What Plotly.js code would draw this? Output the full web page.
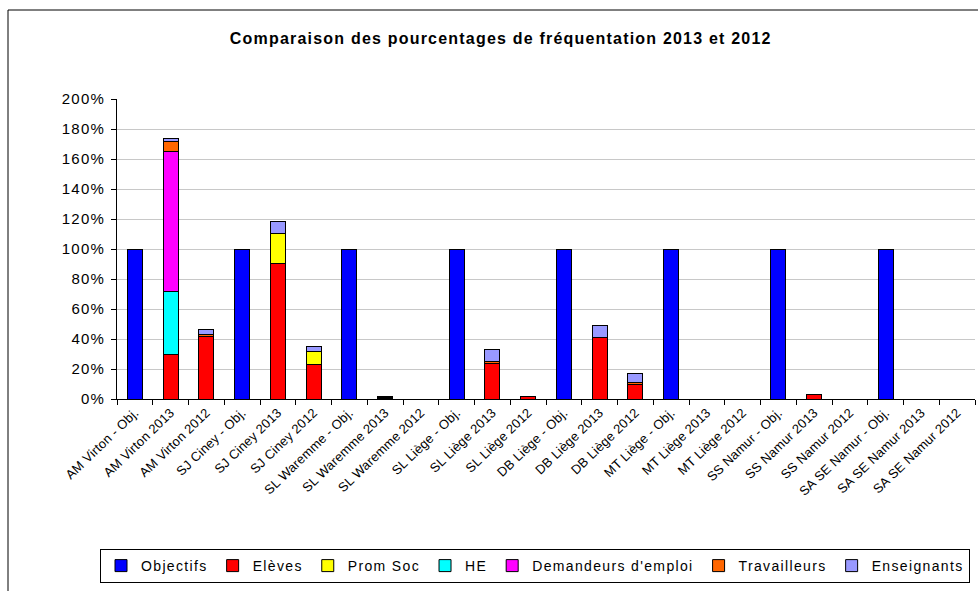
<!DOCTYPE html>
<html>
<head>
<meta charset="utf-8">
<script src="https://cdn.plot.ly/plotly-3.0.1.min.js"></script>
<style>
html,body{margin:0;padding:0;background:#fff;}
#chart{width:978px;height:591px;}
text.legendtext{letter-spacing:1.35px;}
text.gtitle{letter-spacing:1.2px;}
.ytick text{letter-spacing:1.2px;}
.xtick text{letter-spacing:0.2px;}
</style>
</head>
<body>
<div id="chart"></div>
<script>
const categories = [
  "AM Virton - Obj.", "AM Virton 2013", "AM Virton 2012",
  "SJ Ciney - Obj.", "SJ Ciney 2013", "SJ Ciney 2012",
  "SL Waremme - Obj.", "SL Waremme 2013", "SL Waremme 2012",
  "SL Liège - Obj.", "SL Liège 2013", "SL Liège 2012",
  "DB Liège - Obj.", "DB Liège 2013", "DB Liège 2012",
  "MT Liège - Obj.", "MT Liège 2013", "MT Liège 2012",
  "SS Namur - Obj.", "SS Namur 2013", "SS Namur 2012",
  "SA SE Namur - Obj.", "SA SE Namur 2013", "SA SE Namur 2012"
];
const objectifs    = [100,0,0, 100,0,0, 100,0,0, 100,0,0, 100,0,0, 100,0,0, 100,0,0, 100,0,0];
const eleves       = [0,30,42, 0,90.5,23, 0,0.6,0, 0,24,2, 0,41,10, 0,0,0, 0,3,0, 0,0,0];
const promSoc      = [0,0,0, 0,20,8.7, 0,0,0, 0,0,0, 0,0,0, 0,0,0, 0,0,0, 0,0,0];
const he           = [0,42,0, 0,0,0, 0,0,0, 0,0,0, 0,0,0, 0,0,0, 0,0,0, 0,0,0];
const demandeurs   = [0,93,0, 0,0,0, 0,0,0, 0,0,0, 0,0,0, 0,0,0, 0,0,0, 0,0,0];
const travailleurs = [0,6.5,1, 0,0,0, 0,0.6,0, 0,0.8,0, 0,0,1.2, 0,0,0, 0,0,0, 0,0,0];
const enseignants  = [0,2.5,3.5, 0,7.8,3.3, 0,0.8,0, 0,8.5,0, 0,8,6, 0,0,0, 0,0,0, 0,0,0];

const seriesNames  = ["Objectifs","Elèves","Prom Soc","HE","Demandeurs d'emploi","Travailleurs","Enseignants"];
const seriesValues = [objectifs, eleves, promSoc, he, demandeurs, travailleurs, enseignants];
const seriesColors = ["#0000FF","#FF0000","#FFFF00","#00FFFF","#FF00FF","#FF6600","#9999FF"];

const FONT = "Arial, 'Liberation Sans', sans-serif";

const traces = seriesNames.map((name, i) => ({
  type: "bar",
  name: name,
  x: categories,
  y: seriesValues[i],
  marker: {color: seriesColors[i], line: {color: "#000", width: 1}},
  hoverinfo: "x+y+name"
}));

const layout = {
  width: 978, height: 591,
  paper_bgcolor: "#fff", plot_bgcolor: "#fff",
  margin: {l: 117, r: 3, t: 99, b: 192, pad: 0},
  barmode: "stack",
  bargap: 0.58,
  font: {family: FONT, size: 13, color: "#000"},
  title: {
    text: "<b>Comparaison des pourcentages de fréquentation 2013 et 2012</b>",
    font: {family: FONT, size: 16, color: "#000"},
    x: 0.512, xref: "container", xanchor: "center",
    y: 1 - 38/591, yref: "container", yanchor: "middle"
  },
  xaxis: {
    type: "category",
    tickangle: -44,
    showgrid: false,
    showline: true, linecolor: "#000", linewidth: 1,
    ticks: "outside", ticklen: 5, tickcolor: "#000",
    tickson: "boundaries",
    tickfont: {family: FONT, size: 13, color: "#000"},
    zeroline: false
  },
  yaxis: {
    range: [0, 200],
    dtick: 20, tick0: 0,
    ticksuffix: "%",
    showgrid: true, gridcolor: "#c8c8c8", gridwidth: 1,
    showline: true, linecolor: "#000", linewidth: 1,
    ticks: "outside", ticklen: 5, tickcolor: "#000",
    ticklabelstandoff: 3,
    tickfont: {family: FONT, size: 15, color: "#000"},
    zeroline: false,
    fixedrange: true
  },
  showlegend: true,
  legend: {
    orientation: "h",
    x: -0.0198, xanchor: "left",
    y: -0.5, yanchor: "top",
    bordercolor: "#000", borderwidth: 1,
    bgcolor: "#fff",
    font: {family: FONT, size: 14, color: "#000"},
    traceorder: "normal",
    itemwidth: 30
  },
  shapes: [{
    type: "rect", xref: "paper", yref: "paper",
    x0: (8-117)/858, x1: 1.2, y0: -1.2, y1: (399-10)/300,
    line: {color: "#000", width: 1}, fillcolor: "rgba(0,0,0,0)", layer: "below"
  }]
};

Plotly.newPlot("chart", traces, layout, {displayModeBar: false, staticPlot: true});
</script>
</body>
</html>
